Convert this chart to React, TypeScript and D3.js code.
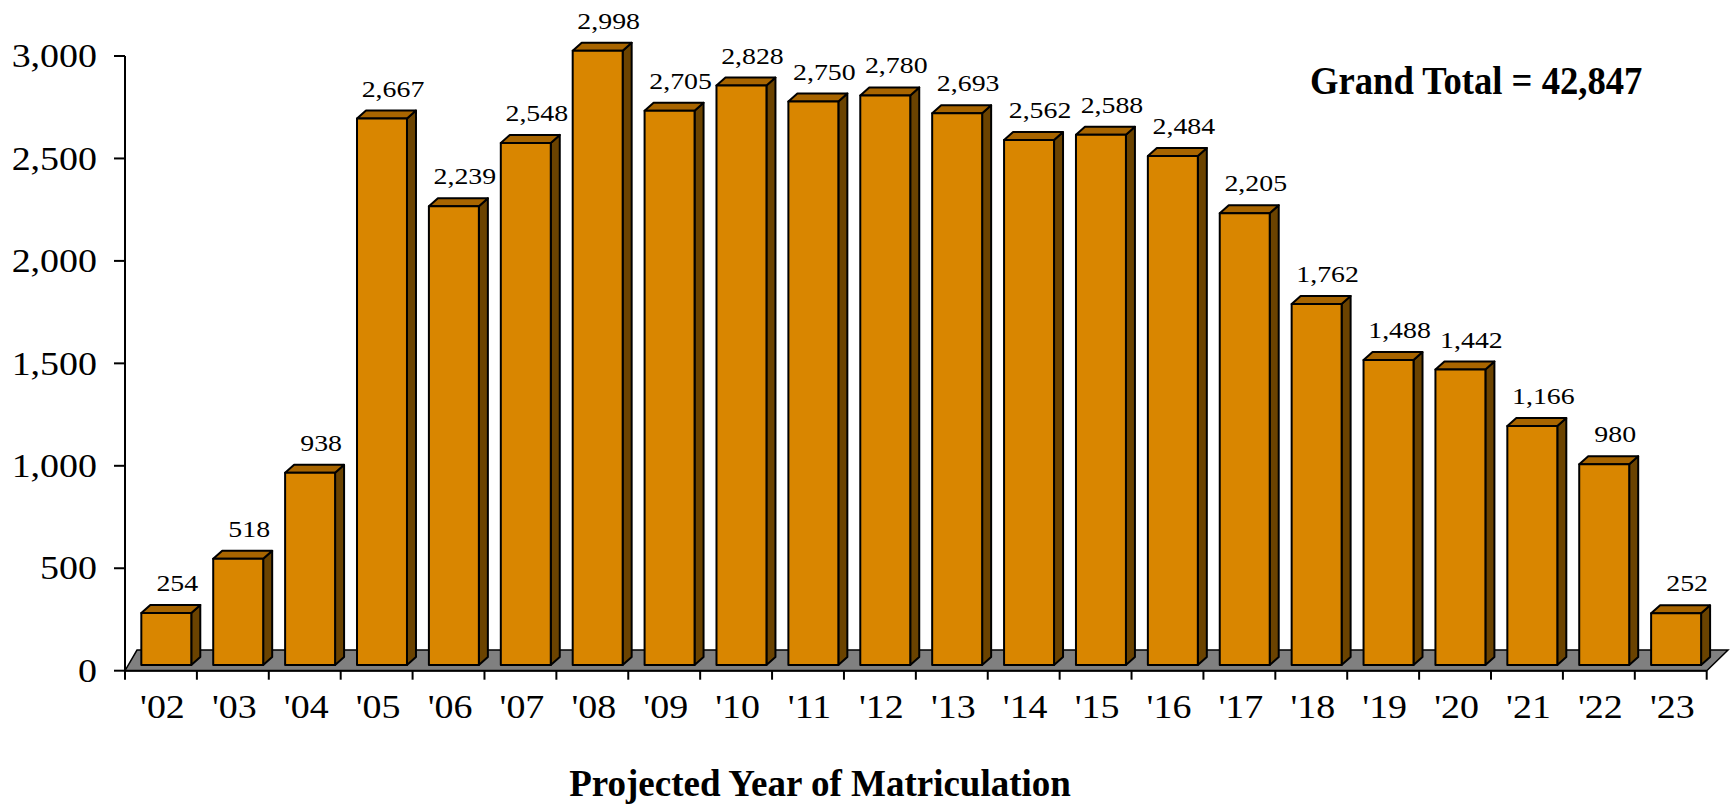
import React from "react";
import * as d3 from "d3";

const years = ["'02", "'03", "'04", "'05", "'06", "'07", "'08", "'09", "'10", "'11", "'12", "'13", "'14", "'15", "'16", "'17", "'18", "'19", "'20", "'21", "'22", "'23"];
const counts = [254, 518, 938, 2667, 2239, 2548, 2998, 2705, 2828, 2750, 2780, 2693, 2562, 2588, 2484, 2205, 1762, 1488, 1442, 1166, 980, 252];
const yTicks = [0, 500, 1000, 1500, 2000, 2500, 3000];
const xTitle = "Projected Year of Matriculation";
const totalLabel = "Grand Total = ";

const W = 1731;
const H = 804;
const left = 125;
const right = 1706.7;
const axisY = 670.7;
const topY = 56;
const serif = "'Liberation Serif', 'Times New Roman', Times, serif";

const FRONT = "#D98600";
const TOP = "#A86500";
const SIDE = "#6B4300";
const FLOOR = "#808080";

export default function App() {
  const x = d3.scaleBand<string>().domain(years).range([left, right]).padding(0);
  const y = d3.scaleLinear().domain([0, 3000]).range([axisY, topY]);
  const step = x.step();
  const fmt = d3.format(",");

  // 3D geometry
  const barShiftY = 5.7; // bar front sits into the floor
  const barOff = step * 0.227;
  const barW = step * 0.695;
  const dX = 9;
  const dY = 8;
  const floorDy = 20.7;
  const floorDxL = 12;
  const floorDxR = 21.3;

  const floorPts = [
    [left, axisY],
    [right, axisY],
    [right + floorDxR, axisY - floorDy],
    [left + floorDxL, axisY - floorDy],
  ];

  const xTickPos = [...years.map((d) => x(d) as number), right];

  return (
    <div style={{ position: "absolute", left: 0, top: 0, width: W, height: H, background: "#fff" }}>
      <svg width={W} height={H} style={{ display: "block" }} fontFamily={serif}>
        <rect x={0} y={0} width={W} height={H} fill="#fff" />
        {/* floor */}
        <polygon points={floorPts.map((p) => p.join(",")).join(" ")} fill={FLOOR} stroke="#000" strokeWidth={1.5} />

        {/* bars */}
        {counts.map((v, i) => {
          const bx = (x(years[i]) as number) + barOff;
          const yTop = y(v) - barShiftY;
          const yBot = y(0) - barShiftY;
          const topPts = [
            [bx, yTop],
            [bx + barW, yTop],
            [bx + barW + dX, yTop - dY],
            [bx + dX, yTop - dY],
          ];
          const sidePts = [
            [bx + barW, yTop],
            [bx + barW + dX, yTop - dY],
            [bx + barW + dX, yBot - dY],
            [bx + barW, yBot],
          ];
          return (
            <g key={years[i]} stroke="#000" strokeWidth={2} strokeLinejoin="round">
              <polygon points={sidePts.map((p) => p.join(",")).join(" ")} fill={SIDE} />
              <polygon points={topPts.map((p) => p.join(",")).join(" ")} fill={TOP} />
              <rect x={bx} y={yTop} width={barW} height={yBot - yTop} fill={FRONT} />
            </g>
          );
        })}

        {/* data labels */}
        {counts.map((v, i) => {
          const cx = (x(years[i]) as number) + barOff + barW / 2 + 11;
          const by = y(v) - barShiftY - dY - 14;
          return (
            <text
              key={"l" + i}
              transform={`translate(${cx},${by}) scale(1.16,1)`}
              textAnchor="middle"
              fontSize={24}
              fill="#000"
            >
              {fmt(v)}
            </text>
          );
        })}

        {/* y axis */}
        <line x1={left} x2={left} y1={y(3000)} y2={axisY} stroke="#000" strokeWidth={2} />
        {yTicks.map((t) => (
          <g key={"yt" + t}>
            <line x1={left - 11} x2={left} y1={y(t)} y2={y(t)} stroke="#000" strokeWidth={2} />
            <text
              transform={`translate(${left - 28},${y(t)}) scale(1.15,1)`}
              textAnchor="end"
              dy="0.34em"
              fontSize={33}
              fill="#000"
            >
              {fmt(t)}
            </text>
          </g>
        ))}

        {/* x axis */}
        <line x1={left} x2={right} y1={axisY} y2={axisY} stroke="#000" strokeWidth={2} />
        {xTickPos.map((p, i) => (
          <line key={"xt" + i} x1={p} x2={p} y1={axisY} y2={axisY + 9} stroke="#000" strokeWidth={2} />
        ))}
        {years.map((d) => (
          <text
            key={"xl" + d}
            transform={`translate(${(x(d) as number) + step / 2 + 1.5},718) scale(1.15,1)`}
            textAnchor="middle"
            fontSize={33}
            fill="#000"
          >
            {d}
          </text>
        ))}

        {/* titles */}
        <text x={820} y={796} textAnchor="middle" fontSize={37} fontWeight="bold" fill="#000">
          {xTitle}
        </text>
        <text transform={`translate(1310,93.5) scale(0.94,1)`} fontSize={39} fontWeight="bold" fill="#000">
          {totalLabel + fmt(d3.sum(counts))}
        </text>
      </svg>
    </div>
  );
}
